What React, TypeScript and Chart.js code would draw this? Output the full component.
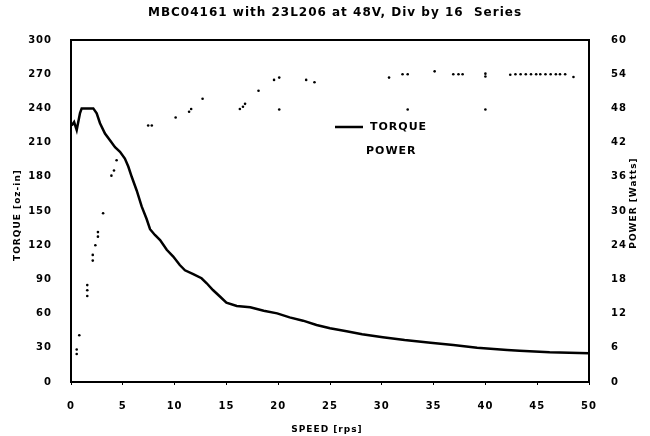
import React, { useEffect, useRef } from "react";
import { Chart, registerables } from "chart.js";

Chart.register(...registerables);

const chartTitle = "MBC04161 with 23L206 at 48V, Div by 16  Series";
const xTitle = "SPEED [rps]";
const leftTitle = "TORQUE [oz-in]";
const rightTitle = "POWER [Watts]";
const seriesNames = ["TORQUE", "POWER"];

const speedRange = [0, 50, 5];
const torqueRange = [0, 300, 30];
const powerRange = [0, 60, 6];

const torqueSpeed = [
  0.07, 0.3, 0.55, 0.87, 1.03, 2.15, 2.48, 2.8, 3.28, 3.76, 4.25, 4.73, 5.2, 5.53, 5.86, 6.34, 6.82, 7.3,
  7.63, 8.1, 8.6, 9.24, 9.87, 10.5, 11.0, 11.8, 12.6, 13.1, 13.7, 14.4, 15.0, 16.0, 17.3, 18.6, 19.9,
  21.1, 22.4, 23.7, 25.0, 26.6, 28.1, 30.1, 32.2, 34.7, 36.9, 39.2, 42.1, 43.3, 46.2, 50,
];
const torqueOz = [
  225, 228, 221, 236, 240, 240, 235.6, 227, 218, 212, 206, 202, 196, 189, 180, 168, 154, 143,
  134, 129, 124.5, 116, 110, 102.6, 98, 94.7, 91, 86.6, 80.7, 74.8, 69.6, 66.7, 65.5, 62.5, 60.2,
  56.7, 53.8, 50, 47.1, 44.5, 41.8, 39.2, 36.8, 34.5, 32.5, 30.1, 28.1, 27.5, 26.0, 25.2,
];

const powerSpeed = [
  0.55, 0.55, 0.8, 1.57, 1.57, 1.57, 2.1, 2.1, 2.35, 2.6, 2.6, 3.1, 3.9, 4.15, 4.4, 7.45, 7.8, 10.1,
  11.4, 11.6, 12.7, 16.3, 16.6, 16.8, 18.1, 19.6, 20.1, 20.1, 22.7, 23.5, 30.7, 32.0, 32.5, 32.5, 35.1,
  36.9, 37.4, 37.8, 40.0, 40.0, 40.0, 42.4, 42.9, 43.4, 43.9, 44.4, 44.9, 45.3, 45.8, 46.3, 46.8, 47.2,
  47.7, 48.5,
];
const powerWatts = [
  5.7, 4.9, 8.2, 17.0, 16.1, 15.1, 22.3, 21.3, 24.0, 26.3, 25.5, 29.6, 36.2, 37.1, 38.9, 45.0, 45.0, 46.4,
  47.4, 47.9, 49.7, 47.9, 48.3, 48.8, 51.1, 53.0, 53.4, 47.8, 53.0, 52.6, 53.4, 54.0, 54.0, 47.8, 54.5,
  54.0, 54.0, 54.0, 54.1, 53.6, 47.8, 53.9, 54.0, 54.0, 54.0, 54.0, 54.0, 54.0, 54.0, 54.0, 54.0, 54.0,
  54.0, 53.5,
];

const FONT = "'DejaVu Sans', sans-serif";
const SPACING = "1px";

const decoPlugin = {
  id: "deco",
  beforeLayout(chart: any) {
    chart.ctx.letterSpacing = SPACING;
  },
  beforeDraw(chart: any) {
    chart.ctx.letterSpacing = SPACING;
  },
  afterDraw(chart: any) {
    const { ctx, chartArea: a } = chart;
    ctx.save();
    ctx.letterSpacing = SPACING;
    ctx.strokeStyle = "#000";
    ctx.lineWidth = 2;
    ctx.strokeRect(a.left, a.top, a.right - a.left, a.bottom - a.top);

    ctx.fillStyle = "#000";
    ctx.textBaseline = "middle";
    ctx.textAlign = "center";
    const cx = (a.left + a.right) / 2;
    ctx.font = `bold 12px ${FONT}`;
    ctx.fillText(chartTitle, cx + 5, 13);

    ctx.font = `bold 9px ${FONT}`;
    ctx.fillText(xTitle, cx - 3, chart.height - 6);

    ctx.save();
    ctx.translate(18, (a.top + a.bottom) / 2 + 4);
    ctx.rotate(-Math.PI / 2);
    ctx.fillText(leftTitle, 0, 0);
    ctx.restore();

    ctx.save();
    ctx.translate(chart.width - 16, (a.top + a.bottom) / 2 - 8);
    ctx.rotate(-Math.PI / 2);
    ctx.fillText(rightTitle, 0, 0);
    ctx.restore();

    // legend
    const lx = a.left + 264;
    const ly = a.top + 87;
    ctx.lineWidth = 2.5;
    ctx.beginPath();
    ctx.moveTo(lx, ly);
    ctx.lineTo(lx + 28, ly);
    ctx.stroke();
    ctx.textAlign = "left";
    ctx.font = `bold 11px ${FONT}`;
    ctx.fillText(seriesNames[0], lx + 35, ly);
    ctx.fillText(seriesNames[1], lx + 31, ly + 24);
    ctx.restore();
  },
};

export default function App() {
  const ref = useRef<HTMLCanvasElement | null>(null);
  useEffect(() => {
    if (!ref.current) return;
    const torqueData = torqueSpeed.map((x, i) => ({ x, y: torqueOz[i] }));
    const powerData = powerSpeed.map((x, i) => ({ x, y: powerWatts[i] }));
    const tickFont = { family: FONT, size: 10, weight: "bold" as const };
    const chart = new Chart(ref.current, {
      type: "scatter",
      data: {
        datasets: [
          {
            label: seriesNames[0],
            data: torqueData,
            showLine: true,
            borderColor: "#000",
            backgroundColor: "#000",
            borderWidth: 2.5,
            pointRadius: 0,
            tension: 0,
            yAxisID: "y",
          },
          {
            label: seriesNames[1],
            data: powerData,
            showLine: false,
            borderColor: "#000",
            backgroundColor: "#000",
            pointRadius: 1.3,
            pointBorderWidth: 0,
            yAxisID: "y1",
          },
        ],
      },
      options: {
        animation: false,
        responsive: true,
        maintainAspectRatio: false,
        layout: { padding: { top: 40, left: 0, right: 0, bottom: 0 } },
        plugins: { legend: { display: false }, tooltip: { enabled: false }, title: { display: false } },
        scales: {
          x: {
            type: "linear",
            min: speedRange[0],
            max: speedRange[1],
            ticks: { stepSize: speedRange[2], color: "#000", font: tickFont, padding: 15, maxRotation: 0 },
            grid: { display: true, drawOnChartArea: false, drawTicks: true, tickLength: 3, color: "#000" },
            border: { display: false },
            afterFit: (s: any) => {
              s.height = 54;
            },
          },
          y: {
            type: "linear",
            position: "left",
            min: torqueRange[0],
            max: torqueRange[1],
            ticks: { stepSize: torqueRange[2], color: "#000", font: tickFont, padding: 11 },
            grid: { display: false },
            border: { display: false },
            afterFit: (s: any) => {
              s.width = 71;
            },
          },
          y1: {
            type: "linear",
            position: "right",
            min: powerRange[0],
            max: powerRange[1],
            ticks: { stepSize: powerRange[2], color: "#000", font: tickFont, padding: 14 },
            grid: { display: false },
            border: { display: false },
            afterFit: (s: any) => {
              s.width = 61;
            },
          },
        },
      },
      plugins: [decoPlugin],
    });
    return () => chart.destroy();
  }, []);
  return (
    <div style={{ position: "absolute", left: 0, top: 0, width: 650, height: 436, background: "#fff" }}>
      <canvas ref={ref} />
    </div>
  );
}
